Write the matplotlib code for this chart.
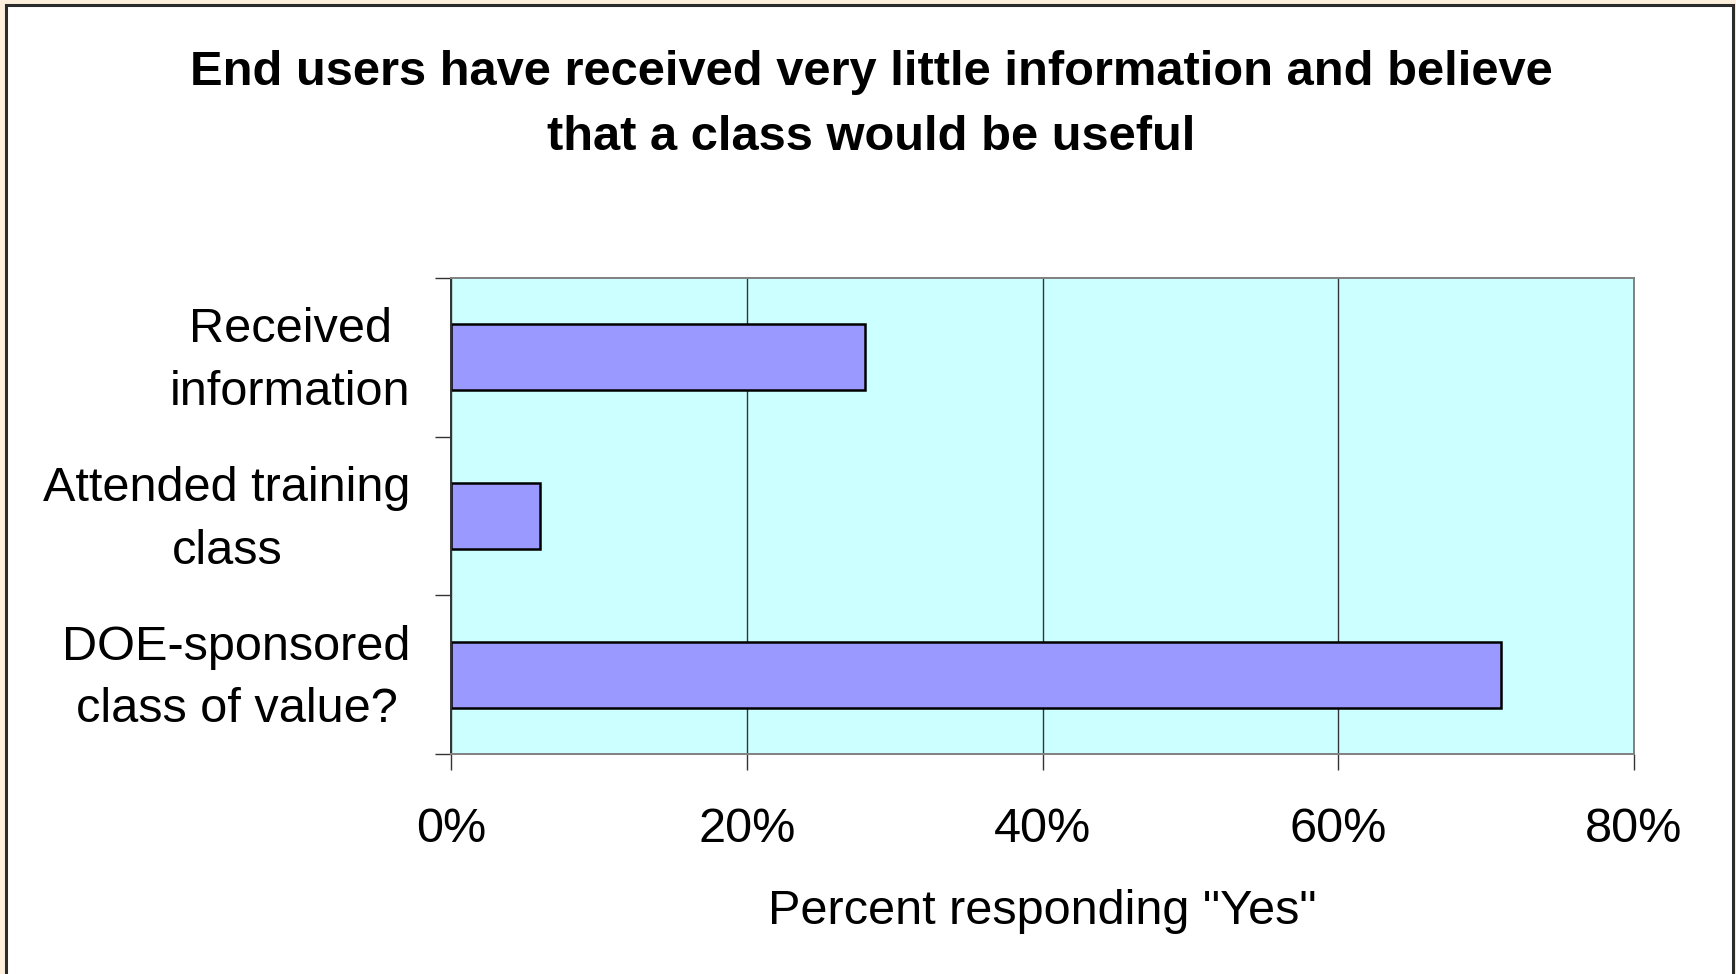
import matplotlib
matplotlib.use('Agg')
from matplotlib import pyplot as plt
from matplotlib.patches import Rectangle
from matplotlib.ticker import FixedLocator, PercentFormatter
from matplotlib.transforms import ScaledTranslation

plt.rcParams['font.family'] = ['Liberation Sans', 'DejaVu Sans']

TITLE = 'End users have received very little information and believe\nthat a class would be useful'
categories = ['Received\ninformation', 'Attended training\nclass', 'DOE-sponsored\nclass of value?']
yes_pct = [28, 6, 71]
x_ticks = [0, 20, 40, 60, 80]
x_label = 'Percent responding "Yes"'

fig = plt.figure(figsize=(17.36, 9.74), dpi=100)
fig.patch.set_facecolor('#FCF0DC')

# white slide panel with a dark frame (bottom edge runs off the picture)
panel = Rectangle((6 / 1736, -0.05), (1733 - 6) / 1736, 1.05 - 5 / 974,
                  transform=fig.transFigure, facecolor='white',
                  edgecolor='#2b2b2b', linewidth=2.2, zorder=-10)
fig.patches.append(panel)

fig.text(0.502, 1 - 50 / 974, TITLE, ha='center', va='top', fontsize=35.2,
         fontweight='bold', linespacing=1.58)

ax = fig.add_axes([451 / 1736, 1 - 754 / 974, (1634 - 451) / 1736, (754 - 278) / 974])
ax.set_facecolor('#CCFFFF')

pos = list(range(len(categories)))
ax.barh(pos, yes_pct, height=0.415, color='#9999FF', edgecolor='black',
        linewidth=1.8, zorder=3)

ax.set_xlim(x_ticks[0], x_ticks[-1])
ax.set_ylim(len(categories) - 0.5, -0.5)

ax.xaxis.set_major_locator(FixedLocator(x_ticks))
ax.xaxis.set_major_formatter(PercentFormatter(decimals=0))
ax.grid(axis='x', color='#333333', linewidth=1.0, zorder=1)

ax.set_yticks(pos)
ax.set_yticklabels(categories, multialignment='center', linespacing=1.5)
ax.yaxis.set_minor_locator(FixedLocator([p - 0.5 for p in pos] + [pos[-1] + 0.5]))

ax.tick_params(axis='y', which='major', length=0, pad=29, labelsize=35)
ax.tick_params(axis='y', which='minor', length=11.5, width=1.0, color='#333333')
ax.tick_params(axis='x', which='major', length=11.5, width=1.0, color='#333333',
               pad=27, labelsize=35)

# nudge the two-line category labels up so they sit centred on the bars
shift = ScaledTranslation(0, 0.10, fig.dpi_scale_trans)
for lbl in ax.get_yticklabels():
    lbl.set_transform(lbl.get_transform() + shift)

ax.set_xlabel(x_label, fontsize=35, labelpad=26)

ax.spines['left'].set_color('#333333')
for side in ['top', 'right', 'bottom']:
    ax.spines[side].set_color('#808080')
for side in ax.spines:
    ax.spines[side].set_linewidth(1.4)
    ax.spines[side].set_zorder(4)

fig.savefig('out.png', dpi=100, facecolor=fig.get_facecolor())
